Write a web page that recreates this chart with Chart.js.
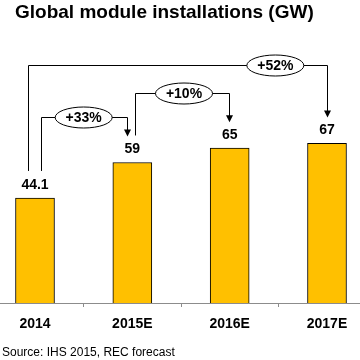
<!DOCTYPE html>
<html>
<head>
<meta charset="utf-8">
<script src="https://cdn.jsdelivr.net/npm/chart.js@4/dist/chart.umd.min.js"></script>
<style>
html,body{margin:0;padding:0;background:#fff;}
#wrap{width:360px;height:360px;position:relative;}
</style>
</head>
<body>
<div id="wrap"><canvas id="c" width="360" height="360"></canvas></div>
<script>
const categories = ['2014', '2015E', '2016E', '2017E'];
const installations = [44.1, 59, 65, 67];
const valueLabels = ['44.1', '59', '65', '67'];
const growthLabels = ['+33%', '+10%', '+52%'];
const growthFrom = [0, 1, 0];
const growthTo = [1, 2, 3];
const growthLevel = [78, 88, 100];
const titleText = 'Global module installations (GW)';
const sourceText = 'Source: IHS 2015, REC forecast';

const FONT = "'Liberation Sans', Arial, Helvetica, sans-serif";

// style constants for bracket drawing (pixel offsets)
const leftOffsets = [6, 3, -7];
const rightOffsets = [-5, -0.5, 0];
const ellipseShift = [0, 3, -3];
const ellipseEdgeIdx = [[0, 1], [1, 2], [2, 3]];

const decor = {
  id: 'decor',
  beforeDatasetsDraw(chart) {
    const ctx = chart.ctx;
    const ca = chart.chartArea;
    ctx.save();
    ctx.strokeStyle = '#8c8c8c';
    ctx.lineWidth = 1;
    ctx.beginPath();
    ctx.moveTo(0, Math.round(ca.bottom) + 0.5);
    ctx.lineTo(chart.width, Math.round(ca.bottom) + 0.5);
    ctx.stroke();
    ctx.restore();
  },
  afterDraw(chart) {
    const ctx = chart.ctx;
    const xs = chart.scales.x, ys = chart.scales.y;
    ctx.save();
    // title
    ctx.fillStyle = '#000';
    ctx.textBaseline = 'middle';
    ctx.textAlign = 'left';
    ctx.font = 'bold 19px ' + FONT;
    ctx.fillText(titleText, 15, 13);
    ctx.font = '12px ' + FONT;
    ctx.fillText(sourceText, 2, 353);

    // value labels
    ctx.font = 'bold 14px ' + FONT;
    ctx.textAlign = 'center';
    installations.forEach((v, i) => {
      ctx.fillText(valueLabels[i], xs.getPixelForValue(i), ys.getPixelForValue(v) - 13);
    });

    // brackets
    ctx.strokeStyle = '#000';
    ctx.lineWidth = 1;
    growthLabels.forEach((lab, k) => {
      const a = growthFrom[k], b = growthTo[k];
      const xl = Math.round(xs.getPixelForValue(a) + leftOffsets[k]) + 0.5;
      const xr = Math.round(xs.getPixelForValue(b) + rightOffsets[k]) + 0.5;
      const yl = Math.round(ys.getPixelForValue(growthLevel[k])) + 0.5;
      const yStart = ys.getPixelForValue(installations[a]) - 27;
      const yEnd = ys.getPixelForValue(installations[b]) - 26;
      ctx.beginPath();
      ctx.moveTo(xl, yStart);
      ctx.lineTo(xl, yl);
      ctx.lineTo(xr, yl);
      ctx.lineTo(xr, yEnd - 6);
      ctx.stroke();
      // arrow head
      ctx.fillStyle = '#000';
      ctx.beginPath();
      ctx.moveTo(xr - 3.5, yEnd - 7);
      ctx.lineTo(xr + 3.5, yEnd - 7);
      ctx.lineTo(xr, yEnd);
      ctx.closePath();
      ctx.fill();
      // ellipse
      const e = ellipseEdgeIdx[k];
      const ex = xs.getPixelForValue((e[0] + e[1]) / 2) + ellipseShift[k];
      ctx.beginPath();
      ctx.ellipse(ex, yl, 28.5, 10.5, 0, 0, Math.PI * 2);
      ctx.fillStyle = '#fff';
      ctx.fill();
      ctx.stroke();
      ctx.fillStyle = '#000';
      ctx.font = 'bold 14px ' + FONT;
      ctx.fillText(lab, ex, yl + 0.5);
    });
    ctx.restore();
  }
};

new Chart(document.getElementById('c'), {
  type: 'bar',
  data: {
    labels: categories,
    datasets: [{
      data: installations,
      backgroundColor: '#FFC000',
      borderColor: '#000',
      borderWidth: 1,
      borderSkipped: 'bottom',
      barThickness: 39,
      clip: false
    }]
  },
  options: {
    responsive: false,
    animation: false,
    devicePixelRatio: 1,
    layout: { padding: { left: 35, right: 33, top: 41, bottom: 0 } },
    plugins: { legend: { display: false }, tooltip: { enabled: false }, title: { display: false } },
    scales: {
      x: {
        offset: false,
        grid: { offset: true, drawOnChartArea: false, drawTicks: true, tickLength: 4, color: '#8c8c8c' },
        border: { display: false },
        ticks: { color: '#000', font: { family: FONT, size: 14, weight: 'bold' }, padding: 9, maxRotation: 0, autoSkip: false },
        afterFit(scale) { scale.height = 57; }
      },
      y: {
        display: false,
        min: 0,
        max: 110
      }
    }
  },
  plugins: [decor]
});
</script>
</body>
</html>
